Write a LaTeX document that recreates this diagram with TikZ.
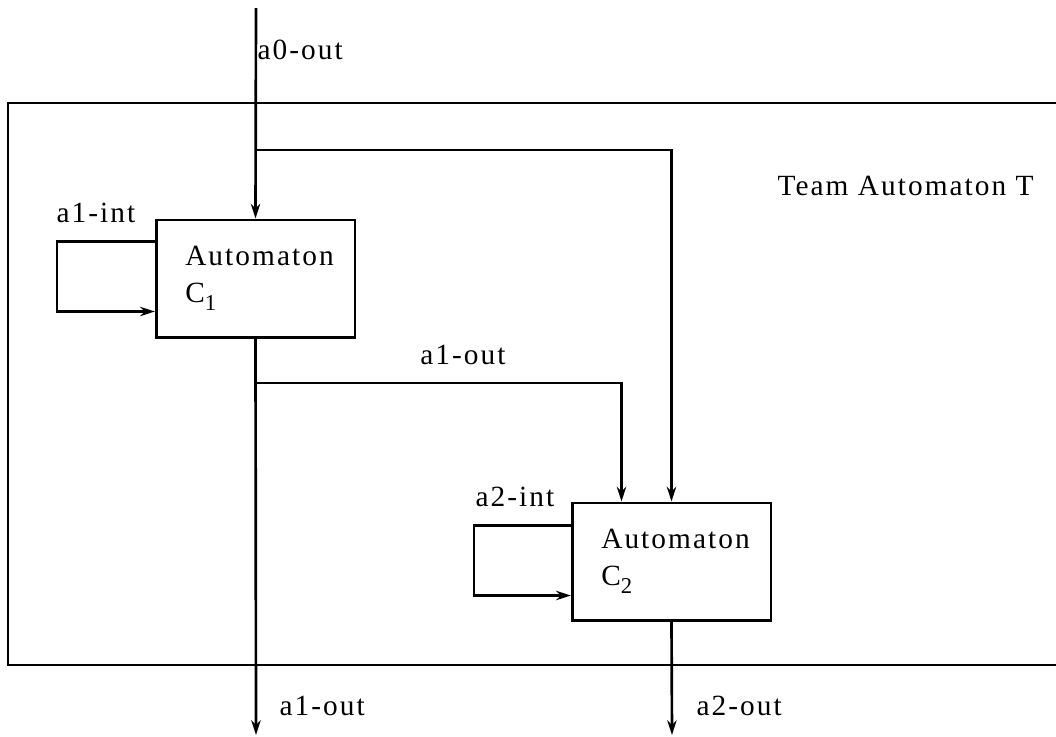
\documentclass[tikz,border=0pt]{standalone}
\usepackage{fontspec}
\setmainfont[LetterSpace=7]{Liberation Serif}
\usetikzlibrary{arrows.meta,calc}
\newcommand{\mysub}[1]{\raisebox{-0.28em}{\fontsize{17}{17}\selectfont #1}}
\begin{document}
\begin{tikzpicture}[x=0.75pt,y=-0.75pt,
  every node/.style={font=\fontsize{22}{28}\selectfont},
  wire/.style={line width=2pt},
  arr/.style={wire,-{Stealth[length=11pt,width=7pt,inset=3.5pt]}},
  autbox/.style={draw,line width=2pt,rectangle,minimum width=149pt,minimum height=88pt,align=left,inner sep=0pt},
  lbl/.style={inner sep=1pt}]
\useasboundingbox (0,0) rectangle (1056,736);
% outer frame (right side cut off)
\draw[wire] (1070,103) -- (8,103) -- (8,665) -- (1070,665);
% automata
\node[autbox] (c1) at (255.5,278.5) {\hspace*{6pt}Automaton\\\hspace*{6pt}C\mysub{1}};
\node[autbox] (c2) at (671.5,561.5) {\hspace*{6pt}Automaton\\\hspace*{6pt}C\mysub{2}};
% coordinates
\coordinate (a0top) at (256,8);
\coordinate (b0) at (256,150);
\coordinate (b1) at (256,383);
\coordinate (c1out) at (256,735);
\coordinate (c2out) at (672,735);
% connectors
\draw[arr] (a0top) -- (c1.north);
\draw[arr] (b0) -| (c2.north);
\draw[arr] (c1.south) -- (c1out);
\draw[arr] (b1) -| ($(c2.north)+(-50,0)$);
\draw[arr] (c2.south) -- (c2out);
\draw[arr] ($(c1.north west)+(0,23)$) -- ++(-98,0) -- ++(0,70) coordinate (t1) -- (t1 -| c1.west);
\draw[arr] ($(c2.north west)+(0,24)$) -- ++(-97,0) -- ++(0,70) coordinate (t2) -- (t2 -| c2.west);
% labels
\node[lbl,anchor=west] (la0) at (256,50) {a0-out};
\node[lbl,anchor=west] (la1int) at (55,213) {a1-int};
\node[lbl] (la1out) at (463,355) {a1-out};
\node[lbl,anchor=west] (la2int) at (474,497) {a2-int};
\node[lbl,anchor=west] (lo1) at (278,706) {a1-out};
\node[lbl,anchor=west] (lo2) at (695,706) {a2-out};
\node[lbl,anchor=west] (team) at (776,186) {Team Automaton T};
\end{tikzpicture}
\end{document}
